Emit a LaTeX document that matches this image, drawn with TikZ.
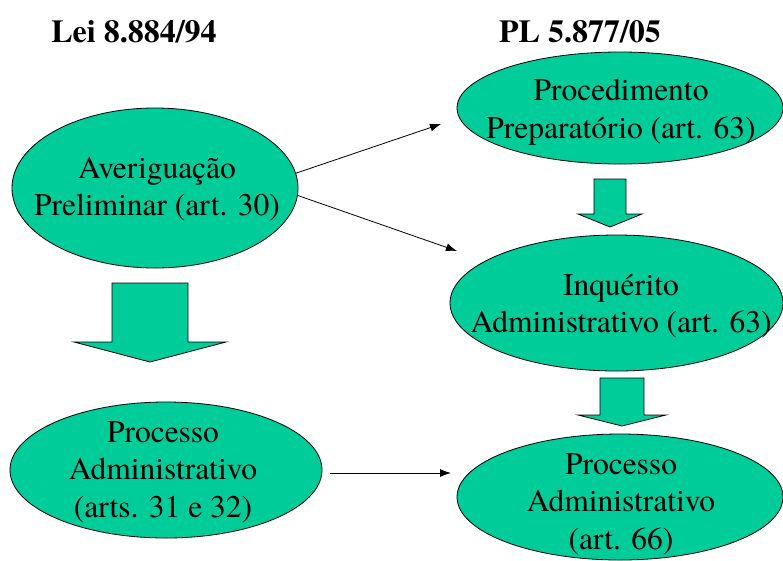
\documentclass[tikz,border=0pt]{standalone}
\usepackage{fontspec}
\setmainfont{TeX Gyre Termes}
\usetikzlibrary{shapes.geometric,arrows.meta}
\definecolor{elfill}{RGB}{0,204,153}
\tikzset{
  el/.style={ellipse, draw=black, line width=0.8pt, fill=elfill, inner sep=0pt},
  txt/.style={align=center, inner sep=0pt, font=\fontsize{31.5pt}{37.5pt}\selectfont},
  ttl/.style={anchor=base, inner sep=0pt, font=\fontsize{32pt}{36pt}\selectfont\bfseries},
  blk/.style={draw=black, line width=0.8pt, fill=elfill, line join=miter},
  arr/.style={-{Latex[length=11pt,width=8pt]}, line width=0.8pt}
}
\begin{document}
\begin{tikzpicture}[x=1pt,y=-1pt]
\useasboundingbox (0,0) rectangle (783,560);
\fill[white] (0,0) rectangle (783,560);
% titles
\node[ttl] (t1) at (134,42) {Lei 8.884/94};
\node[ttl] (t2) at (580,42) {PL 5.877/05};
% ellipses
\node[el, minimum width=286pt, minimum height=160pt] (av) at (155,188) {};
\node[txt] (avt) at (157,189) {Averiguação\\Preliminar (art. 30)};
\node[el, minimum width=326pt, minimum height=112pt] (pp) at (620,108) {};
\node[txt] (ppt) at (621,112) {Procedimento\\Preparatório (art. 63)};
\node[el, minimum width=333pt, minimum height=136pt] (iq) at (616.5,303) {};
\node[txt] (iqt) at (621,306) {Inquérito\\Administrativo (art. 63)};
\node[el, minimum width=312pt, minimum height=136pt] (pl) at (166,470) {};
\node[txt] (plt) at (163,472) {Processo\\Administrativo\\(arts. 31 e 32)};
\node[el, minimum width=326pt, minimum height=126pt] (pr) at (620,497) {};
\node[txt] (prt) at (621,504) {Processo\\Administrativo\\(art. 66)};
% block arrows
\draw[blk] (112,283) -- (188,283) -- (188,342) -- (226,342) -- (150,362) -- (74,342) -- (112,342) -- cycle;
\draw[blk] (594,179) -- (626,179) -- (626,214) -- (642,214) -- (610,227) -- (578,214) -- (594,214) -- cycle;
\draw[blk] (600,378) -- (644,378) -- (644,415) -- (666,415) -- (622,426) -- (578,415) -- (600,415) -- cycle;
% thin arrows
\coordinate (e1) at (441,124);
\coordinate (e2) at (457,251);
\coordinate (s3) at (330,473);
\coordinate (e3) at (451,473);
\draw[arr] (av.6) -- (e1);
\draw[arr] (av.-3) -- (e2);
\draw[arr] (s3) -- (e3);
\end{tikzpicture}
\end{document}
